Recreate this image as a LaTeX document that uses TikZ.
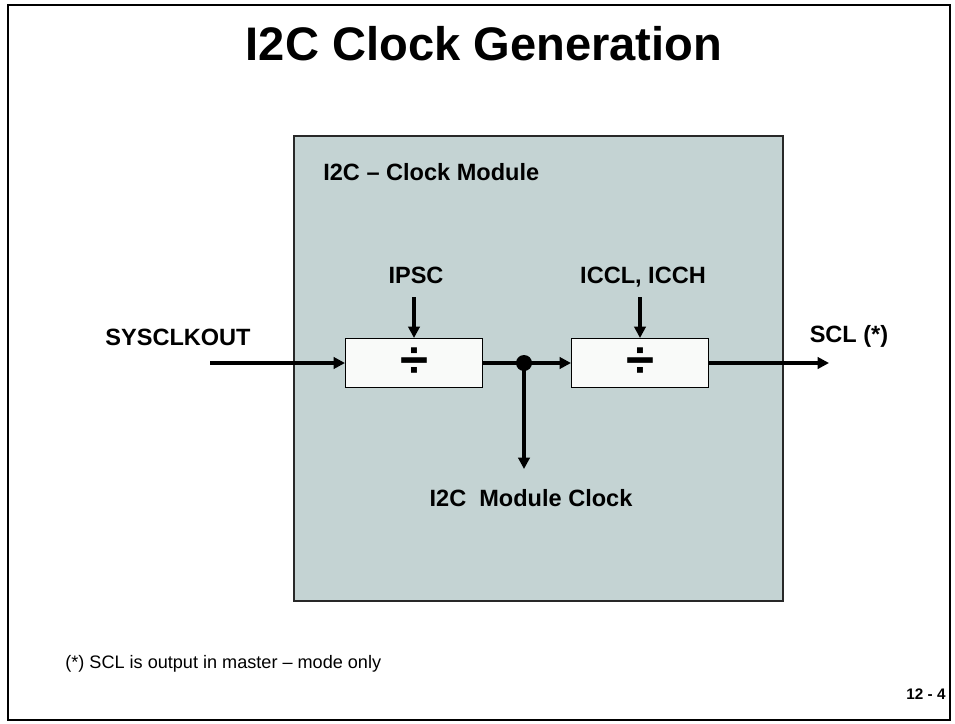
\documentclass[tikz,border=0pt]{standalone}
\usepackage{fontspec}
\setmainfont{Liberation Sans}
\usepackage{tikz}
\usepackage{xcolor}
\usetikzlibrary{arrows.meta, positioning}
\definecolor{modfill}{RGB}{196,211,211}
\definecolor{divfill}{RGB}{249,250,249}
\definecolor{modline}{RGB}{40,40,40}
\newcommand{\divsign}{\raisebox{-0.13em}{÷}}
\tikzset{
  titletext/.style={inner sep=0pt,font=\bfseries\fontsize{26.8}{30}\selectfont},
  lbl/.style={inner sep=0pt,font=\bfseries\fontsize{13.4}{15}\selectfont},
  modbox/.style={fill=modfill,draw=modline,line width=0.9pt},
  divbox/.style={rectangle,draw,fill=divfill,line width=0.6pt,minimum width=2.74cm,
    minimum height=0.98cm,inner sep=0pt,font=\bfseries\fontsize{29}{29}\selectfont},
  tap/.style={circle,fill,inner sep=0pt,minimum size=0.32cm},
  sigarrow/.style={-{Triangle[length=6.5pt,width=6.5pt]},line width=2pt},
}

\begin{document}
\begin{tikzpicture}[x=0.02cm,y=-0.02cm]
  \useasboundingbox (0,0) rectangle (955,723);
  \draw[line width=1.2pt] (8,5) rectangle (950,720);
  \node[titletext] (title) at (484,44) {I2C Clock Generation};
  % clock module
  \path[modbox] (294,136) rectangle (783,601);
  \node[lbl,anchor=base west] (modname) at (323,180) {I2C -- Clock Module};
  \node[divbox] (div1) at (414,363) {\divsign};
  \node[divbox] (div2) at (640,363) {\divsign};
  \node[tap] (tap) at (524,363) {};
  \node[lbl,anchor=base] (ipsc) at (416,283) {IPSC};
  \node[lbl,anchor=base] (iccx) at (643,283) {ICCL, ICCH};
  \node[lbl,anchor=base] (sysclk) at (178,345) {SYSCLKOUT};
  \node[lbl,anchor=base] (scl) at (849,342) {SCL (*)};
  \node[lbl,anchor=base] (modclk) at (531,506) {I2C\ \ Module Clock};
  \coordinate (sysin) at (210,363);
  \coordinate (sclout) at (829,363);
  \coordinate (ipscin) at (414,297);
  \coordinate (iccxin) at (640,297);
  \coordinate (clkout) at (524,469);
  \draw[sigarrow] (sysin) -- (div1);
  \draw[sigarrow] (div1) -- (div2);
  \draw[sigarrow] (tap.center) -- (clkout);
  \draw[sigarrow] (div2) -- (sclout);
  \draw[sigarrow] (ipscin) -- (div1.north);
  \draw[sigarrow] (iccxin) -- (div2.north);
  % notes
  \node[inner sep=0pt,anchor=base west,font=\fontsize{10.3}{12}\selectfont] (note) at (65,668)
    {(*) SCL is output in master -- mode only};
  \node[inner sep=0pt,anchor=base,font=\bfseries\fontsize{8.7}{10}\selectfont] (pageno) at (926,699) {12 - 4};
\end{tikzpicture}
\end{document}
